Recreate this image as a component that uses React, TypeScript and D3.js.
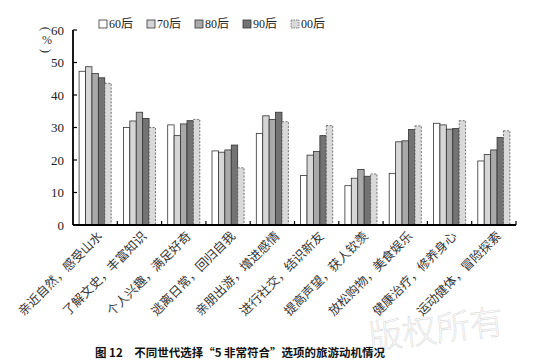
import React from "react";
import * as d3 from "d3";

// 旅游动机（横轴类别）
const categories = [
  "亲近自然，感受山水",
  "了解文史，丰富知识",
  "个人兴趣，满足好奇",
  "逃离日常，回归自我",
  "亲朋出游，增进感情",
  "进行社交，结识新友",
  "提高声望，获人钦羡",
  "放松购物，美食娱乐",
  "健康治疗，修养身心",
  "运动健体，冒险探索",
];

const generations = ["60后", "70后", "80后", "90后", "00后"];

// 各世代选择比例 (%)
const gen60 = [47.3, 30.0, 30.8, 22.8, 28.2, 15.2, 12.1, 15.9, 31.3, 19.7];
const gen70 = [48.7, 32.0, 27.5, 22.4, 33.6, 21.5, 14.4, 25.6, 30.8, 21.7];
const gen80 = [46.6, 34.7, 31.1, 23.1, 32.5, 22.6, 17.1, 25.9, 29.5, 23.1];
const gen90 = [45.3, 32.8, 32.1, 24.6, 34.7, 27.5, 15.0, 29.4, 29.7, 26.9];
const gen00 = [43.6, 30.0, 32.5, 17.6, 31.8, 30.6, 15.7, 30.5, 32.1, 29.0];

const yTicks = [0, 10, 20, 30, 40, 50, 60];

const fills = ["#ffffff", "#d6d6d6", "#a9a9a9", "#737373", "#d9d9d9"];

const serif = "'Liberation Serif', 'Noto Sans CJK SC', serif";
const cjk = "'Noto Sans CJK SC', sans-serif";

export default function App() {
  const width = 550;
  const height = 362;
  const series = [gen60, gen70, gen80, gen90, gen00];

  const x = d3.scaleBand<string>().domain(categories).range([73, 516]).padding(0);
  const xInner = d3
    .scaleBand<string>()
    .domain(generations)
    .range([0, x.bandwidth()])
    .paddingInner(0)
    .paddingOuter(0.95);
  const y = d3.scaleLinear().domain([0, 60]).range([225, 30]);

  const x0 = x.range()[0];
  const x1 = x.range()[1];

  return (
    <svg
      width={width}
      height={height}
      style={{ position: "absolute", left: 0, top: 0, background: "#fff" }}
    >
      {/* watermark */}
      <text
        x={505}
        y={333}
        transform="rotate(-7 505 333)"
        textAnchor="end"
        fontFamily={cjk}
        fontWeight={300}
        fontSize={34}
        fill="none"
        stroke="#dcdcdc"
        strokeWidth={0.6}
      >
        版权所有
      </text>

      {/* bars */}
      {categories.map((c, ci) => (
        <g key={c} transform={`translate(${x(c)},0)`}>
          {generations.map((g, gi) => {
            const v = series[gi][ci];
            return (
              <rect
                key={g}
                x={xInner(g)}
                y={y(v)}
                width={xInner.bandwidth()}
                height={y(0) - y(v)}
                fill={fills[gi]}
                stroke={gi === 4 ? "#555" : "#333"}
                strokeWidth={0.8}
                strokeDasharray={gi === 4 ? "2,1.5" : undefined}
              />
            );
          })}
        </g>
      ))}

      {/* y axis */}
      <line x1={x0} x2={x0} y1={y(60)} y2={y(0)} stroke="#000" strokeWidth={1.8} />
      {yTicks.map((t) => (
        <g key={t}>
          <line x1={x0} x2={x0 + 4} y1={y(t)} y2={y(t)} stroke="#000" strokeWidth={1.2} />
          <text
            x={x0 - 9}
            y={y(t)}
            dy="0.35em"
            textAnchor="end"
            fontFamily={serif}
            fontSize={13}
            fill="#222"
          >
            {t}
          </text>
        </g>
      ))}

      {/* y unit (%) vertical */}
      <g fontFamily={serif} fill="#333" textAnchor="middle" fontSize={13}>
        <text x={47} y={29} dy="0.35em" transform="rotate(90 47 29)">(</text>
        <text x={47} y={40} dy="0.35em" fontSize={12}>%</text>
        <text x={47} y={51} dy="0.35em" transform="rotate(90 47 51)">)</text>
      </g>

      {/* x axis */}
      <line x1={x0} x2={x1} y1={y(0)} y2={y(0)} stroke="#000" strokeWidth={1.8} />
      {categories.map((c) => (
        <line
          key={c}
          x1={(x(c) as number) + x.bandwidth()}
          x2={(x(c) as number) + x.bandwidth()}
          y1={y(0)}
          y2={y(0) - 4}
          stroke="#000"
          strokeWidth={1.2}
        />
      ))}
      <g opacity={0.99}>
        {categories.map((c) => {
          const cx = (x(c) as number) + x.bandwidth() / 2 + 8;
          const cy = y(0) + 12;
          return (
            <text
              key={c}
              x={cx}
              y={cy}
              transform={`rotate(-45 ${cx} ${cy})`}
              textAnchor="end"
              fontFamily={cjk}
              fontSize={12.5}
              fill="#333"
            >
              {c}
            </text>
          );
        })}
      </g>

      {/* legend */}
      {generations.map((g, gi) => {
        const lx = 99 + gi * 48;
        return (
          <g key={g}>
            <rect
              x={lx}
              y={20}
              width={8}
              height={8}
              fill={fills[gi]}
              stroke={gi === 4 ? "#666" : "#333"}
              strokeWidth={0.8}
              strokeDasharray={gi === 4 ? "1.5,1" : undefined}
            />
            <text x={lx + 10} y={28} fontFamily={serif} fontSize={12} fill="#222">
              {g}
            </text>
          </g>
        );
      })}

      {/* caption */}
      <text x={95} y={357} fontFamily={cjk} fontWeight={700} fontSize={11.5} fill="#111">
        图 12{"\u3000"}不同世代选择“5 非常符合”选项的旅游动机情况
      </text>
    </svg>
  );
}
